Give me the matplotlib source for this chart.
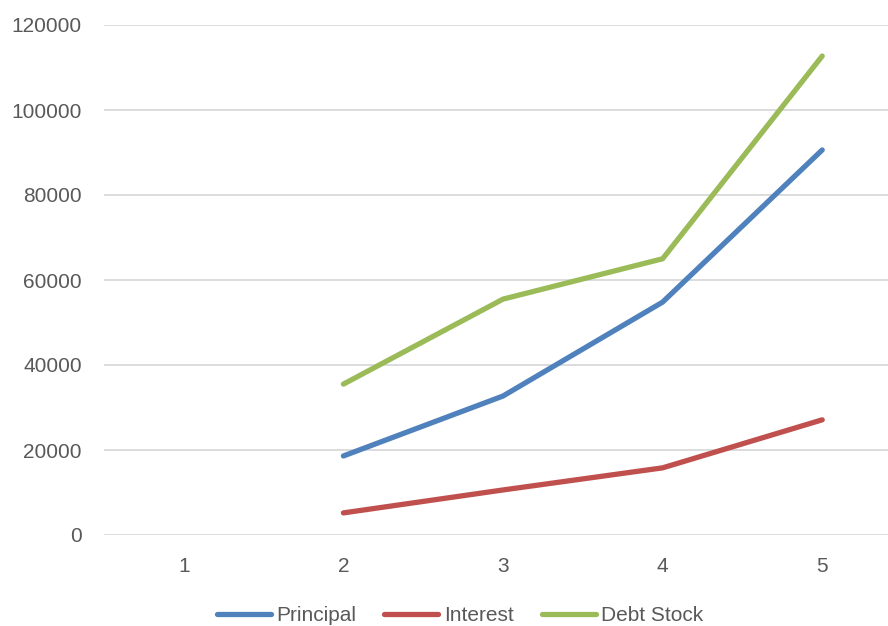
import matplotlib
matplotlib.use("Agg")
import matplotlib.pyplot as plt

# debt figures per year
years = [1, 2, 3, 4, 5]
principal = [None, 18600, 32700, 54800, 90600]
interest = [None, 5200, 10600, 15800, 27100]
debt_stock = [None, 35500, 55500, 65000, 112700]

y_ticks = [0, 20000, 40000, 60000, 80000, 100000, 120000]

plt.rcParams["font.family"] = ["Liberation Sans", "DejaVu Sans"]

fig = plt.figure(figsize=(8.88, 6.26), dpi=100)
ax = fig.add_axes([104 / 888, 91 / 626, 784 / 888, 510 / 626])


def clean(vals):
    return [float("nan") if v is None else v for v in vals]


ax.plot(years, clean(principal), color="#4F81BD", lw=3.8, solid_capstyle="round",
        solid_joinstyle="round", label="Principal")
ax.plot(years, clean(interest), color="#C0504D", lw=3.8, solid_capstyle="round",
        solid_joinstyle="round", label="Interest")
ax.plot(years, clean(debt_stock), color="#9BBB59", lw=3.8, solid_capstyle="round",
        solid_joinstyle="round", label="Debt Stock")

ax.set_xlim(0.5, 5.5 - 14 / 159.5)
ax.set_ylim(0, 120000)
ax.set_xticks(years)
ax.set_yticks(y_ticks)
ax.tick_params(axis="both", length=0, labelsize=15, labelcolor="#595959")
ax.tick_params(axis="y", pad=16)
ax.tick_params(axis="x", pad=16)

ax.grid(axis="y", color="#D9D9D9", lw=1.3)
ax.set_axisbelow(True)
for s in ax.spines.values():
    s.set_visible(False)

leg = fig.legend(loc="center", bbox_to_anchor=(0.518, 0.017), ncol=3, frameon=False,
                 fontsize=15, handlelength=2.6, handletextpad=0.25, columnspacing=1.35)
for t in leg.get_texts():
    t.set_color("#595959")

fig.savefig("out.png", dpi=100)
